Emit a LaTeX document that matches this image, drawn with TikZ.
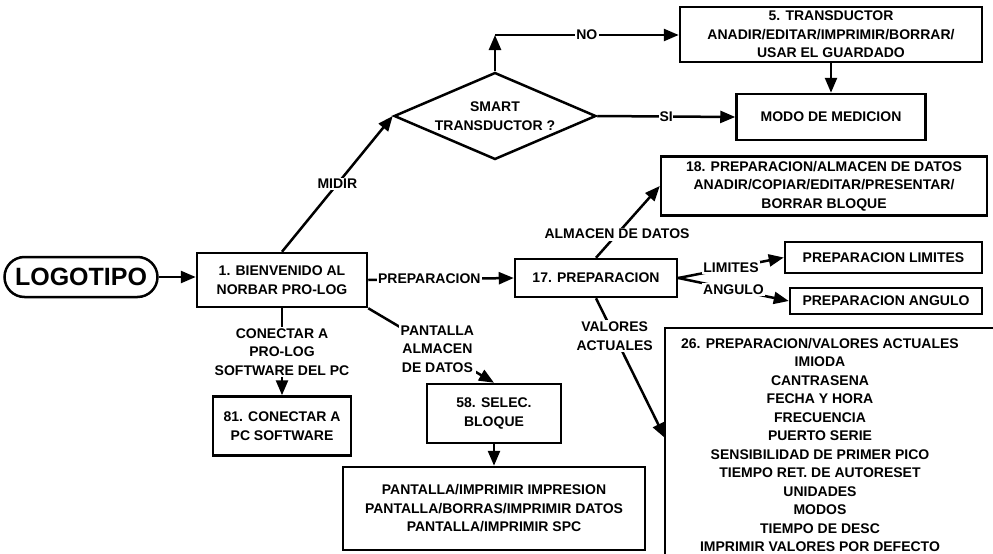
\documentclass[tikz,border=0pt]{standalone}
\usepackage{fontspec}
\setmainfont{Liberation Sans}
\usetikzlibrary{arrows.meta,shapes.geometric}

\begin{document}
\begin{tikzpicture}[x=1pt,y=-1pt,line width=2.5pt,
  font=\bfseries\fontsize{14}{18.5}\selectfont,
  box/.style={draw,align=center,inner sep=0pt},
  lbl/.style={fill=white,inner sep=1.5pt,align=center},
  >={Triangle[length=15pt,width=12pt]}]

\useasboundingbox (0,0) rectangle (993,554);
\clip (0,0) rectangle (993,554);% рамка рисунка

\node[draw,rounded corners=20pt,minimum width=153pt,minimum height=40pt,
  font=\bfseries\fontsize{25}{25}\selectfont] (logo) at (81,277) {LOGOTIPO};
\node[box,minimum width=170pt,minimum height=54pt] (welcome) at (282,280) {1. BIENVENIDO AL\\NORBAR PRO-LOG};
\node[draw,diamond,aspect=2.32,inner sep=0pt,minimum width=202pt,minimum height=87pt,align=center] (smart) at (495,116) {SMART\\TRANSDUCTOR ?};% ромб
\node[box,minimum width=302pt,minimum height=55pt] (transd) at (831,34.5) {5. TRANSDUCTOR\\ANADIR/EDITAR/IMPRIMIR/BORRAR/\\USAR EL GUARDADO};
\node[box,minimum width=189pt,minimum height=46pt] (medicion) at (831,117) {MODO DE MEDICION};
\node[box,minimum width=326pt,minimum height=59pt] (store) at (824,186) {18. PREPARACION/ALMACEN DE DATOS\\ANADIR/COPIAR/EDITAR/PRESENTAR/\\BORRAR BLOQUE};
\node[box,minimum width=162pt,minimum height=38pt] (prep) at (596,278) {17. PREPARACION};
\node[box,minimum width=197pt,minimum height=31pt] (limits) at (883.5,257.5) {PREPARACION LIMITES};
\node[box,minimum width=192pt,minimum height=26pt] (angle) at (886,301) {PREPARACION ANGULO};
\node[box,minimum width=138pt,minimum height=59pt] (pcbox) at (282,426) {81. CONECTAR A\\PC SOFTWARE};
\node[box,minimum width=134pt,minimum height=59pt] (select) at (494,413.5) {58. SELEC.\\BLOQUE};
\node[box,minimum width=302pt,minimum height=83pt] (screens) at (494,508.5) {PANTALLA/IMPRIMIR IMPRESION\\PANTALLA/BORRAS/IMPRIMIR DATOS\\PANTALLA/IMPRIMIR SPC};

\draw (665,328) rectangle (1010,570);% ящик 26 уходит за край
\node[anchor=north,align=center,inner sep=0pt] (values) at (820,337) {26. PREPARACION/VALORES ACTUALES\\IMIODA\\CANTRASENA\\FECHA Y HORA\\FRECUENCIA\\PUERTO SERIE\\SENSIBILIDAD DE PRIMER PICO\\TIEMPO RET. DE AUTORESET\\UNIDADES\\MODOS\\TIEMPO DE DESC\\IMPRIMIR VALORES POR DEFECTO};
\coordinate (valin) at (665,438);
\coordinate (turn) at (495,35);

\draw[->] (logo) -- (logo -| welcome.west);
\draw[->] (welcome.north) -- node[lbl]{MIDIR} (smart.west);
\draw[->] (smart.north) -- (turn);% вверх, потом вправо
\draw[->] (turn) -- node[lbl]{NO} (transd.west |- turn);
\draw[->] (smart.east) -- node[lbl,inner sep=0.5pt]{SI} (medicion.west);
\draw[->] (transd.south) -- (medicion.north);

\draw[->] (welcome.east) -- node[lbl,pos=0.42]{PREPARACION} (prep.west);
\draw[->] (welcome.south east) -- node[lbl,pos=0.55]{PANTALLA\\ALMACEN\\DE DATOS} (select.north);
\draw[->] (welcome.south) -- node[lbl]{CONECTAR A\\PRO-LOG\\SOFTWARE DEL PC} (pcbox.north);
\draw[->] (select.south) -- (screens.north);

\draw[->] (prep.north) -- node[lbl,pos=0.33]{ALMACEN DE DATOS} (store.west);
\draw[->] (prep.east) -- node[lbl]{LIMITES} (limits.west);
\draw[->] (prep.east) -- node[lbl]{ANGULO} (angle.west);
\draw[->] (prep.south) -- node[lbl,pos=0.27]{VALORES\\ACTUALES} (valin);

\end{tikzpicture}
\end{document}
